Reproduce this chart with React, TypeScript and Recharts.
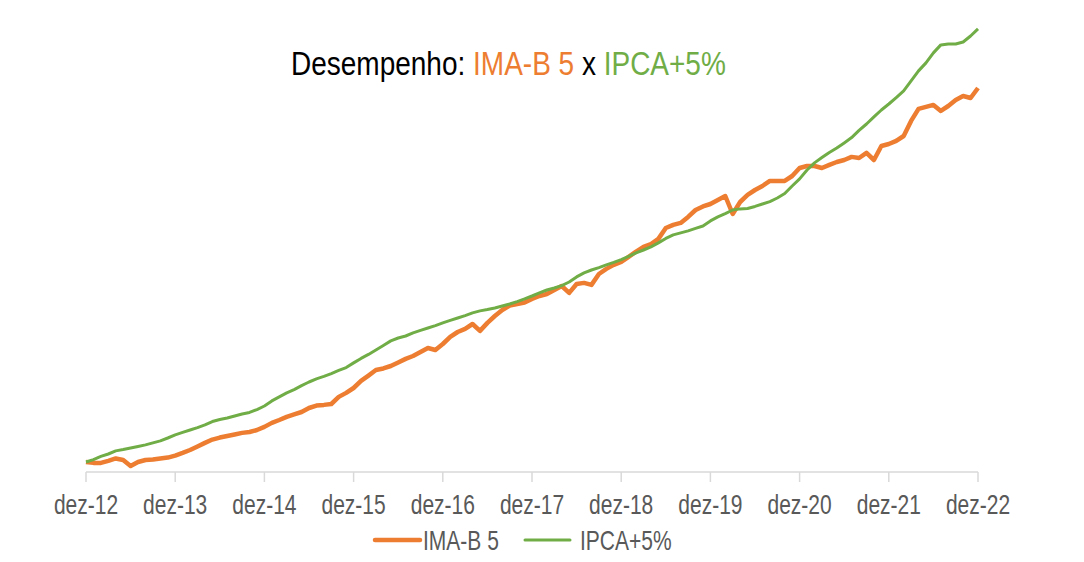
import React from 'react';
import { LineChart, Line, XAxis, YAxis, Legend } from 'recharts';

// Monthly index values, dez-12 = 100
const imaB5: number[] = [
  100, 99.6, 99.6, 100.5, 101.6, 100.9, 98.2, 100, 100.9, 101.1, 101.6, 102.0,
  102.9, 104.1, 105.4, 107.0, 108.6, 110.1, 111.0, 111.7, 112.4, 113.1, 113.5, 114.4,
  115.8, 117.6, 118.9, 120.3, 121.4, 122.5, 124.3, 125.4, 125.7, 126.1, 129.3, 131.1,
  133.3, 136.5, 138.9, 141.4, 142.1, 143.2, 144.8, 146.4, 147.7, 149.5, 151.3, 150.4,
  153.1, 156.3, 158.5, 159.9, 162.1, 159.0, 162.6, 165.7, 168.4, 170.4, 171.1, 171.8,
  173.4, 174.7, 175.6, 177.4, 179.2, 176.1, 180.1, 180.6, 179.7, 184.6, 186.9, 188.7,
  190.0, 192.3, 194.7, 196.8, 198.1, 200.4, 205.3, 206.7, 207.6, 210.3, 213.4, 215.0,
  216.1, 217.9, 219.7, 211.6, 217.0, 220.2, 222.4, 224.2, 226.5, 226.5, 226.5, 228.7,
  232.3, 233.2, 233.2, 232.3, 233.7, 235.0, 235.9, 237.3, 236.8, 239.1, 235.9, 242.2,
  243.1, 244.5, 246.7, 253.5, 258.9, 259.8, 260.7, 258.0, 260.2, 262.9, 264.7, 263.8,
  268.3,
];

const ipca5: number[] = [
  100, 101.1, 102.5, 103.6, 105.0, 105.6, 106.3, 107.0, 107.7, 108.6, 109.5, 110.8,
  112.2, 113.3, 114.4, 115.5, 116.7, 118.2, 119.1, 119.8, 120.7, 121.6, 122.3, 123.6,
  125.2, 127.5, 129.3, 131.1, 132.6, 134.4, 136.0, 137.4, 138.5, 139.8, 141.2, 142.5,
  144.6, 146.6, 148.4, 150.4, 152.4, 154.5, 155.8, 156.7, 158.1, 159.2, 160.3, 161.4,
  162.6, 163.7, 164.8, 165.9, 167.1, 168.0, 168.6, 169.3, 170.2, 171.1, 172.2, 173.4,
  174.7, 176.1, 177.4, 178.3, 179.4, 181.0, 183.3, 185.1, 186.4, 187.5, 188.7, 189.8,
  191.1, 192.5, 194.1, 195.4, 196.8, 198.6, 200.6, 202.2, 203.1, 204.0, 205.1, 206.2,
  208.5, 210.3, 211.8, 213.4, 213.9, 214.1, 215.0, 216.1, 217.2, 218.8, 220.8, 224.2,
  227.4, 231.4, 234.6, 237.0, 239.3, 241.3, 243.6, 246.0, 249.2, 252.1, 255.3, 258.4,
  261.1, 264.0, 267.0, 271.5, 276.0, 279.6, 284.1, 287.7, 288.1, 288.1, 289.0, 291.7,
  294.9,
];

const yearTicks: string[] = [
  'dez-12', 'dez-13', 'dez-14', 'dez-15', 'dez-16', 'dez-17',
  'dez-18', 'dez-19', 'dez-20', 'dez-21', 'dez-22',
];

const ORANGE = '#ED7D31';
const GREEN = '#70AD47';
const TEXT = '#595959';
const FONT = '"Liberation Sans", Arial, Helvetica, sans-serif';

const data = imaB5.map((v, i) => ({ m: i, ima: v, ipca: ipca5[i] }));
const tickPositions = yearTicks.map((_, i) => i * 12);

const AxisTick = (props: any) => {
  const { x, y, payload } = props;
  const label = yearTicks[Math.round(payload.value / 12)];
  return (
    <g transform={`translate(${x},${y})`}>
      <text
        textAnchor="middle"
        transform="translate(0,32) scale(1,1.28)"
        fill={TEXT}
        fontSize={21}
        fontFamily={FONT}
      >
        {label}
      </text>
    </g>
  );
};

const LegendContent = (props: any) => {
  const payload: any[] = props.payload || [];
  const offsets = [0, 150];
  const textGap = [48, 205];
  return (
    <div style={{ height: 42, width: '100%', display: 'flex', justifyContent: 'center' }}>
      <svg width={300} height={42} style={{ transform: 'translateX(-7px)', overflow: 'visible' }}>
        {payload.map((p, i) => (
          <g key={p.value}>
            <line
              x1={offsets[i]}
              x2={offsets[i] + 45}
              y1={28}
              y2={28}
              stroke={p.color}
              strokeWidth={i === 0 ? 4.5 : 3}
              strokeLinecap="round"
            />
            <text
              transform={`translate(${textGap[i]},38) scale(1,1.28)`}
              fill={TEXT}
              fontSize={21}
              fontFamily={FONT}
            >
              {p.value}
            </text>
          </g>
        ))}
      </svg>
    </div>
  );
};

export default function App() {
  return (
    <div style={{ position: 'relative', width: 1068, height: 546, fontFamily: FONT }}>
      <LineChart
        width={1068}
        height={546}
        data={data}
        margin={{ top: 4, right: 98, bottom: 0, left: 78 }}
      >
        <XAxis
          dataKey="m"
          type="number"
          domain={[0, 120]}
          ticks={tickPositions}
          tick={<AxisTick />}
          tickSize={10}
          tickMargin={0}
          height={40}
          axisLine={{ stroke: '#d9d9d9', strokeWidth: 1.5 }}
          tickLine={{ stroke: '#d9d9d9', strokeWidth: 1.5 }}
          interval={0}
        />
        <YAxis hide domain={[95.5, 302.5]} type="number" />
        <Legend
          verticalAlign="bottom"
          align="center"
          content={<LegendContent />}
          wrapperStyle={{ height: 42 }}
        />
        <Line
          name="IMA-B 5"
          dataKey="ima"
          type="linear"
          stroke={ORANGE}
          strokeWidth={4.5}
          strokeLinejoin="round"
          dot={false}
          isAnimationActive={false}
        />
        <Line
          name="IPCA+5%"
          dataKey="ipca"
          type="linear"
          stroke={GREEN}
          strokeWidth={3}
          strokeLinejoin="round"
          dot={false}
          isAnimationActive={false}
        />
      </LineChart>
      <svg
        width={1068}
        height={100}
        style={{ position: 'absolute', left: 0, top: 0, pointerEvents: 'none' }}
      >
        <text
          transform="translate(283,67) scale(1,1.16)"
          fontSize={28}
          fontFamily={FONT}
          fill="#000000"
        >
          <tspan>Desempenho: </tspan>
          <tspan fill={ORANGE}>IMA-B 5</tspan>
          <tspan> x </tspan>
          <tspan fill={GREEN}>IPCA+5%</tspan>
        </text>
      </svg>
    </div>
  );
}
